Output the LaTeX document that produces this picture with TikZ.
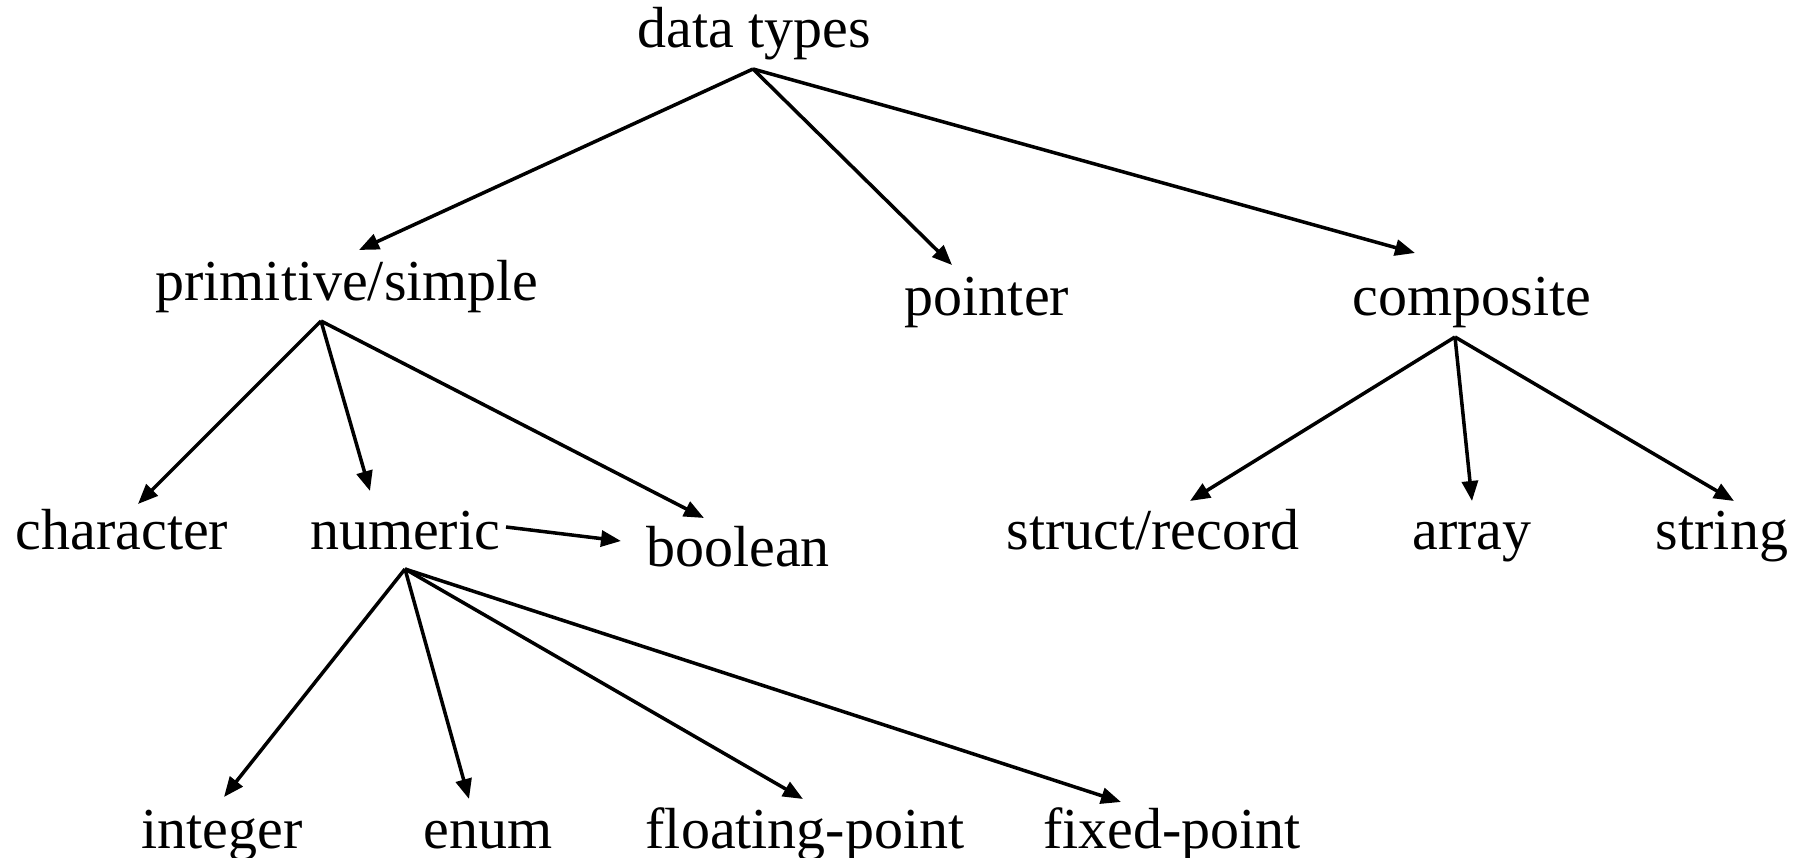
\documentclass[tikz,border=0pt]{standalone}
\usepackage{fontspec}
\setmainfont{Liberation Serif}
\usetikzlibrary{arrows.meta}
\tikzset{lbl/.style = {anchor=base, inner sep=0pt, font=\fontsize{33}{40}\selectfont}}
\tikzset{arr/.style = {line width=2pt, -{Triangle[length=0.4cm, width=0.32cm]}}}

\begin{document}
\begin{tikzpicture}[x=0.02cm, y=-0.02cm]
      \useasboundingbox (0, 0) rectangle (1803, 858);

      \node [lbl] (dt) at (754, 48) {data types};

      \node [lbl] (prim) at (347, 301) {primitive/simple};
      \node [lbl] (ptr) at (987, 316) {pointer};
      \node [lbl] (comp) at (1472, 316) {composite};

      \node [lbl] (chr) at (122, 549) {character};
      \node [lbl] (num) at (405, 549) {numeric};
      \node [lbl] (bool) at (738, 566) {boolean};
      \node [lbl] (strc) at (1153, 549) {struct/record};
      \node [lbl] (arr) at (1472, 549) {array};
      \node [lbl] (str) at (1722, 549) {string};

      \node [lbl] (int) at (222, 848) {integer};
      \node [lbl] (enm) at (488, 848) {enum};
      \node [lbl] (flt) at (805, 848) {floating-point};
      \node [lbl] (fix) at (1172, 848) {fixed-point};

      % top level
      \draw [arr] ([shift={(-1, 21)}]dt.base) -- ([shift={(12, -51)}]prim.base);
      \draw [arr] ([shift={(-1, 21)}]dt.base) -- ([shift={(-35, -51)}]ptr.base);
      \draw [arr] ([shift={(-1, 21)}]dt.base) -- ([shift={(-57, -63)}]comp.base);

      % primitive
      \draw [arr] ([shift={(-26, 20)}]prim.base) -- ([shift={(16, -45)}]chr.base);
      \draw [arr] ([shift={(-26, 20)}]prim.base) -- ([shift={(-35, -58)}]num.base);
      \draw [arr] ([shift={(-26, 20)}]prim.base) -- ([shift={(-34, -48)}]bool.base);
      \draw [arr] ([shift={(101, -22)}]num.base) -- ([shift={(-117, -25)}]bool.base);

      % numeric
      \draw [arr] ([shift={(0, 20)}]num.base) -- ([shift={(2, -51)}]int.base);
      \draw [arr] ([shift={(0, 20)}]num.base) -- ([shift={(-19, -49)}]enm.base);
      \draw [arr] ([shift={(0, 20)}]num.base) -- ([shift={(-2, -49)}]flt.base);
      \draw [arr] ([shift={(0, 20)}]num.base) -- ([shift={(-51, -46)}]fix.base);

      % composite
      \draw [arr] ([shift={(-17, 21)}]comp.base) -- ([shift={(37, -48)}]strc.base);
      \draw [arr] ([shift={(-17, 21)}]comp.base) -- ([shift={(0, -48)}]arr.base);
      \draw [arr] ([shift={(-17, 21)}]comp.base) -- ([shift={(12, -48)}]str.base);
    \end{tikzpicture}
\end{document}
